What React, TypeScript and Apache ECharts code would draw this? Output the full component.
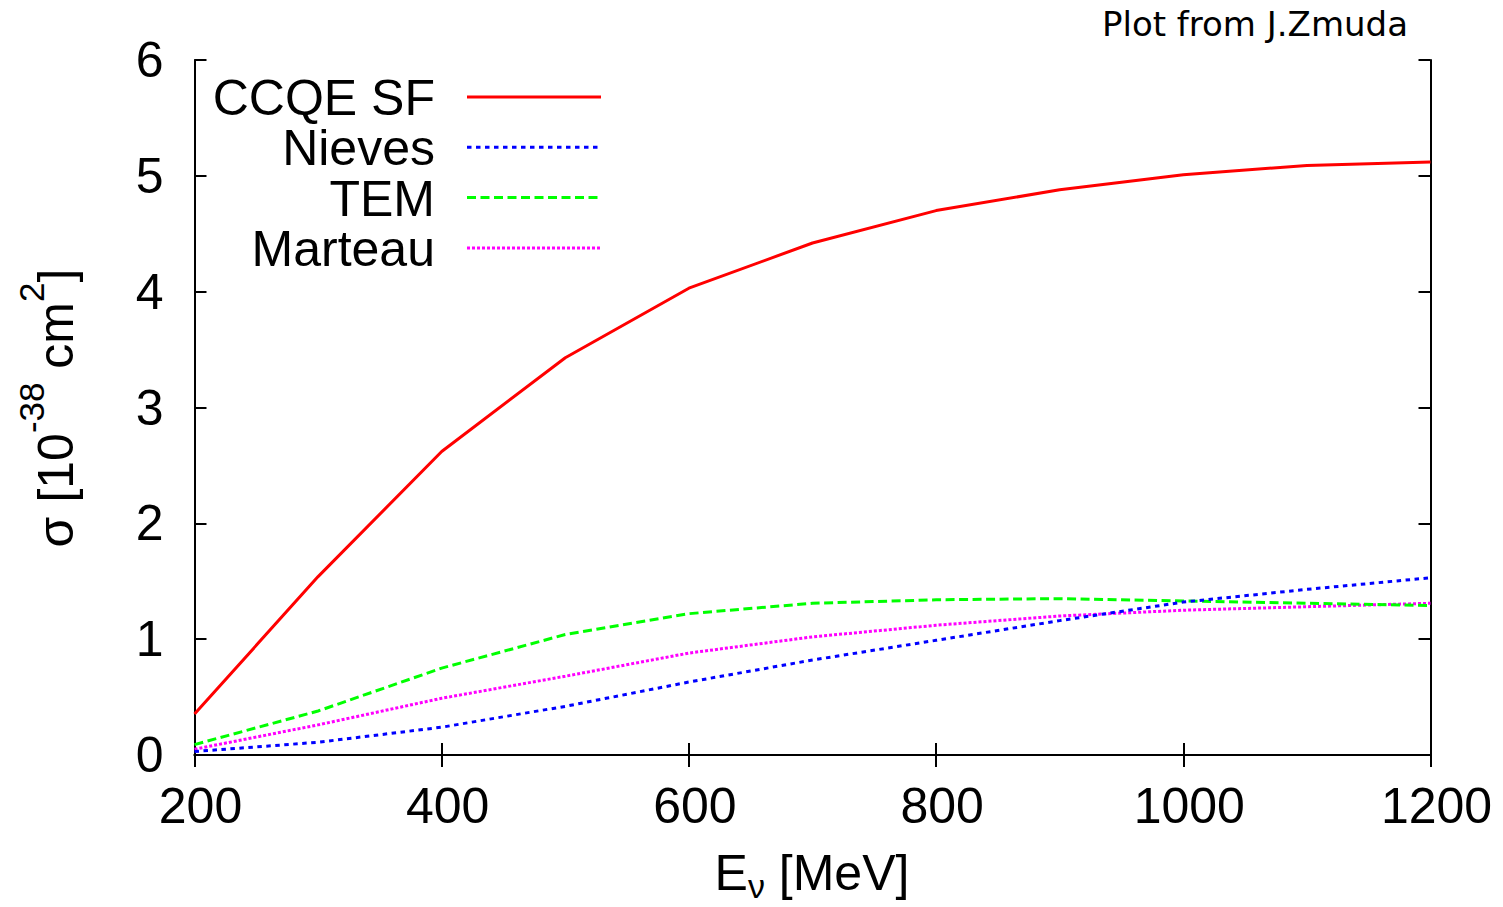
import React, { useEffect, useRef } from "react";
import * as echarts from "echarts";

const energies = [200, 300, 400, 500, 600, 700, 800, 900, 1000, 1100, 1200];
const ccqeSF = [0.354, 1.54, 2.62, 3.43, 4.03, 4.42, 4.7, 4.88, 5.01, 5.09, 5.12];
const nieves = [0.03, 0.11, 0.24, 0.42, 0.63, 0.82, 0.99, 1.16, 1.32, 1.43, 1.53];
const tem = [0.09, 0.38, 0.75, 1.04, 1.22, 1.31, 1.34, 1.35, 1.33, 1.31, 1.29];
const marteau = [0.05, 0.26, 0.49, 0.68, 0.88, 1.02, 1.12, 1.2, 1.25, 1.28, 1.31];

const seriesNames = ["CCQE SF", "Nieves", "TEM", "Marteau"];
const seriesValues = [ccqeSF, nieves, tem, marteau];
const seriesColors = ["#ff0000", "#0000ff", "#00ff00", "#ff00ff"];
const seriesDash: (number[] | "solid")[] = ["solid", [4.5, 4.5], [9, 4.5], [3, 2]];

const xTicks = { min: 200, max: 1200, interval: 200 };
const yTicks = { min: 0, max: 6, interval: 1 };

const FONT = "'Liberation Sans', Arial, Helvetica, sans-serif";

export default function App() {
  const ref = useRef<HTMLDivElement>(null);
  useEffect(() => {
    if (!ref.current) return;
    const chart = echarts.init(ref.current, null, { renderer: "svg" });
    const axisLine = { show: true, lineStyle: { color: "#000", width: 2 } };
    const axisTick = { show: true, inside: true, length: 12, lineStyle: { color: "#000", width: 2 } };
    const labelStyle = { color: "#000", fontSize: 50, fontFamily: FONT, formatter: (v: number) => String(v) };

    const legendTop = 97;
    const legendStep = 50.3;
    const legendGraphics: any[] = [];
    seriesNames.forEach((n, i) => {
      const y = legendTop + i * legendStep;
      legendGraphics.push({
        type: "text",
        x: 435,
        y: y + 1,
        style: {
          text: n,
          fontSize: 50,
          lineHeight: 44,
          fontFamily: FONT,
          fill: "#000",
          align: "right",
          verticalAlign: "middle",
        },
      });
      legendGraphics.push({
        type: "line",
        shape: { x1: 467, y1: y, x2: 601, y2: y },
        style: { stroke: seriesColors[i], lineWidth: 3, lineDash: seriesDash[i] === "solid" ? null : seriesDash[i] },
      });
    });

    const option: any = {
      animation: false,
      backgroundColor: "#fff",
      grid: { left: 194.5, right: 72.5, top: 60, bottom: 152, containLabel: false },
      xAxis: [
        {
          type: "value",
          ...xTicks,
          position: "bottom",
          axisLine,
          axisTick,
          splitLine: { show: false },
          axisLabel: { ...labelStyle, margin: 26, padding: [0, 0, 0, 12] },
        },
        {
          type: "value",
          ...xTicks,
          position: "top",
          axisLine,
          axisTick,
          splitLine: { show: false },
          axisLabel: { show: false },
        },
      ],
      yAxis: [
        {
          type: "value",
          ...yTicks,
          position: "left",
          axisLine,
          axisTick,
          splitLine: { show: false },
          axisLabel: { ...labelStyle, margin: 31 },
        },
        {
          type: "value",
          ...yTicks,
          position: "right",
          axisLine,
          axisTick,
          splitLine: { show: false },
          axisLabel: { show: false },
        },
      ],
      series: seriesNames.map((n, i) => ({
        name: n,
        type: "line",
        xAxisIndex: 0,
        yAxisIndex: 0,
        showSymbol: false,
        symbol: "none",
        data: energies.map((e, k) => [e, seriesValues[i][k]]),
        lineStyle: {
          color: seriesColors[i],
          width: 3,
          type: seriesDash[i],
        },
        z: 10 - i,
      })),
      graphic: [
        {
          type: "text",
          right: 95,
          top: 7,
          style: {
            text: "Plot from J.Zmuda",
            fontSize: 34,
            fontFamily: "'DejaVu Sans', sans-serif",
            fill: "#000",
          },
        },
        {
          type: "text",
          x: 812,
          y: 873,
          style: {
            text: "{m|E}{s|ν}{m| [MeV]}",
            align: "center",
            verticalAlign: "middle",
            rich: {
              m: { fontSize: 50, fontFamily: FONT, fill: "#000", lineHeight: 60 },
              s: { fontSize: 34, fontFamily: FONT, fill: "#000", lineHeight: 28, verticalAlign: "bottom" },
            },
          },
        },
        {
          type: "text",
          x: 56,
          y: 408,
          rotation: Math.PI / 2,
          style: {
            text: "{m|σ [10}{s|-38}{m| cm}{s|2}{m|]}",
            align: "center",
            verticalAlign: "middle",
            rich: {
              m: { fontSize: 50, fontFamily: FONT, fill: "#000", lineHeight: 84 },
              s: { fontSize: 35, fontFamily: FONT, fill: "#000", lineHeight: 34, verticalAlign: "top" },
            },
          },
        },
        ...legendGraphics,
      ],
    };
    chart.setOption(option);
    return () => chart.dispose();
  }, []);
  return (
    <div
      ref={ref}
      style={{ position: "absolute", left: 0, top: 0, width: 1503, height: 907, background: "#fff" }}
    />
  );
}
